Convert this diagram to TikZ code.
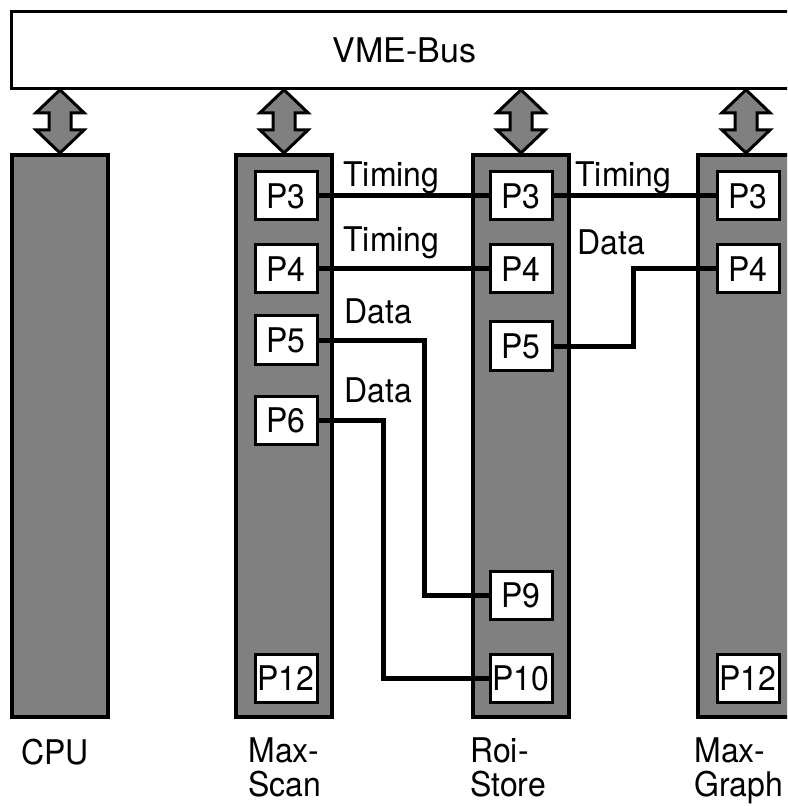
\documentclass[tikz,border=0pt]{standalone}
\usepackage{fontspec}
\setmainfont{TeX Gyre Heros}[FakeStretch=0.94]
\newfontfamily\busfont{TeX Gyre Heros}
\usetikzlibrary{calc,positioning}
\definecolor{dith}{gray}{0.5}
\newcommand\lblsize{\fontsize{17}{17}\selectfont}
\tikzset{
  card/.style={draw,line width=2pt,fill=dith,minimum width=48pt,minimum height=281pt,anchor=north,inner sep=0pt},
  port/.style={draw,line width=1.5pt,fill=white,minimum width=31pt,minimum height=24pt,inner sep=0pt,font=\lblsize},
  wire/.style={line width=2.5pt},
  lbl/.style={font=\lblsize,inner sep=0pt,anchor=base west,align=left},
  busarr/.style={draw,line width=1.5pt,fill=dith,line join=miter}
}
\newcommand\busarrow[1]{%
  \coordinate (t#1) at (bus.south -| #1.north);
  \draw[busarr] (t#1) -- ++(24,23) -- ++(-13,0) -- ($(#1.north)+(11,-23)$) -- ++(13,0)
    -- (#1.north) -- ++(-24,-23) -- ++(13,0) -- ($(t#1)+(-11,23)$) -- ++(-13,0) -- cycle;}

\begin{document}
\begin{tikzpicture}[x=0.5pt,y=-0.5pt]
\clip (0,0) rectangle (787,806);
\node[draw,line width=1.4pt,minimum width=393pt,minimum height=38.5pt,anchor=north west,
  font=\busfont\fontsize{17}{20}\selectfont] (bus) at (10,10) {VME-Bus};
\node[card] (cpu) at (60,153) {};
\node[card] (ms) at (284,153) {};
\node[card] (rs) at (521,153) {};
\node[card] (mg) at (746,153) {};
\foreach \c in {cpu,ms,rs,mg} {\busarrow{\c}}
\foreach \p/\y in {3/196,4/269,5/340,6/420,12/678} {\node[port] (ms\p) at (286,\y) {P\p};}
\foreach \p/\y in {3/196,4/269,5/346,9/595,10/678} {\node[port] (rs\p) at (521,\y) {P\p};}
\foreach \p/\y in {3/196,4/269,12/678} {\node[port] (mg\p) at (748,\y) {P\p};}
\draw[wire] (ms3.east) -- (rs3.west);
\draw[wire] (ms4.east) -- (rs4.west);
\draw[wire] (ms5.east) -- ++(106,0) |- (rs9.west);
\draw[wire] (ms6.east) -- ++(65,0) |- (rs10.west);
\draw[wire] (rs3.east) -- (mg3.west);
\draw[wire] (rs5.east) -- ++(80,0) |- (mg4.west);
\node[lbl] (tim1) at (343,187) {Timing};
\node[lbl] (tim2) at (343,252) {Timing};
\node[lbl] (dat1) at (344,323) {Data};
\node[lbl] (dat2) at (344,402) {Data};
\node[lbl] (tim3) at (575,187) {Timing};
\node[lbl] (dat3) at (577,255) {Data};
\node[lbl] (ncpu) at (21,764) {CPU};
\node[lbl] (nms) at (248,796) {Max-\\Scan};
\node[lbl] (nrs) at (470,796) {Roi-\\Store};
\node[lbl] (nmg) at (694,796) {Max-\\Graph};
\end{tikzpicture}
\end{document}
